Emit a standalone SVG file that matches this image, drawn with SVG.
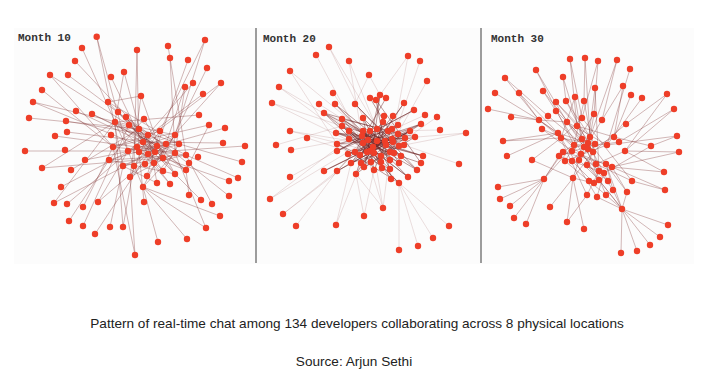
<svg xmlns="http://www.w3.org/2000/svg" width="708" height="384" viewBox="0 0 708 384">
<style>
.bg{fill:#fcfcfc}
.sep{stroke:#9c9c9c;stroke-width:2}
.e{fill:none;stroke:#7a2a2a;stroke-width:0.8;stroke-opacity:0.42}
.ed{fill:none;stroke:#6a2020;stroke-width:0.9;stroke-opacity:0.5}
.el{fill:none;stroke:#8a3a3a;stroke-width:0.7;stroke-opacity:0.24}
.n circle{fill:#ee3e28;r:3.2px}
.lbl{font-family:"Liberation Mono","DejaVu Sans Mono",monospace;font-weight:bold;font-size:11px;fill:#333}
.cap{font-family:"Liberation Sans",Arial,sans-serif;font-size:13.6px;fill:#222;text-anchor:middle}
</style>
<rect width="708" height="384" fill="#ffffff"/>
<rect class="bg" x="14" y="28" width="680" height="236"/>
<line class="sep" x1="256" y1="28" x2="256" y2="263"/>
<line class="sep" x1="481" y1="28" x2="481" y2="263"/>

<g id="month10">
<text class="lbl" x="18" y="41">Month 10</text>
<path class="e" d="M96.7 36.7L123 166M96.7 36.7L128 151M205 40L175 135M205 40L160 131M82 48L128 151M137 50L139 152M137 50L134 166M168 46L186 155M170 58L175 153M188 60L157 146M75 61L139 129M207 68L163 158M124 72L143 142M124 72L115 122M50 75L129 125M68 75L148 135M111 77L148 154M221 83L143 142M193 83L137 147M185 87L175 153M185 87L166 144M42 90L113 147M203 94L128 151M141 96L130 177M141 96L108 102M33 102L129 125M108 102L155 152M118 112L163 158M76 111L143 142M92 114L157 146M199 115L115 122M29 118L139 129M126 117L175 153M144 119L109 160M66 121L148 135M209 125L113 147M225 128L139 152M67 132L166 144M55 136L137 147M223 143L143 142M245 146L155 152M25 151L128 151M242 162L179 144M85 160L166 144M42 168L115 122M71 170L139 129M238 178L186 155M229 181L163 158M61 187L137 147M229 196L175 153M189 195L186 170M201 200L175 174M212 204L186 155M54 203L115 122M67 204L148 135M98 202L128 151M144 202L139 152M83 207L113 147M220 216L143 187M69 221L109 160M83 226L129 125M110 227L123 166M123 227L134 166M123 227L115 122M206 228L143 187M95 234L148 154M187 239L143 187M158 242L143 187M135 255L130 177M135 255L113 147M50 75L113 147M33 102L155 152M221 83L166 144M209 125L186 170M42 168L163 158M54 203L148 154M98 202L166 144M206 228L175 153"/>
<path class="e" d="M115 122L148 135M115 122L157 146M129 125L163 158M129 125L175 135M139 129L179 144M139 129L155 152M148 135L186 155M148 135L130 177M160 131L113 147M160 131L147 176M175 135L128 151M175 135L154 163M143 142L186 170M143 142L175 174M157 146L109 160M157 146L134 166M166 144L123 166M166 144L143 187M179 144L137 147M179 144L163 171M113 147L186 155M137 147L175 153M128 151L163 158M139 152L186 170M155 152L115 122M148 154L179 144M175 153L130 177M186 155L109 160M163 158L123 166M109 160L175 174M154 163L170 184M145 164L186 155M134 166L160 131M123 166L157 183M163 171L115 122M186 170L129 125M175 174L139 129M147 176L175 135M130 177L166 144M157 183L148 135M170 184L137 147M143 187L175 153M143 187L128 151M108 102L179 144M118 112L186 170M144 119L175 174M126 117L163 171M141 96L163 158M92 114L175 153"/>
<g class="n">
<circle cx="96.7" cy="36.7" r="3.2"/><circle cx="205" cy="40" r="3.2"/><circle cx="82" cy="48" r="3.2"/><circle cx="137" cy="50" r="3.2"/><circle cx="168" cy="46" r="3.2"/><circle cx="170" cy="58" r="3.2"/><circle cx="188" cy="60" r="3.2"/><circle cx="75" cy="61" r="3.2"/><circle cx="207" cy="68" r="3.2"/><circle cx="124" cy="72" r="3.2"/><circle cx="50" cy="75" r="3.2"/><circle cx="68" cy="75" r="3.2"/><circle cx="111" cy="77" r="3.2"/><circle cx="221" cy="83" r="3.2"/><circle cx="193" cy="83" r="3.2"/><circle cx="185" cy="87" r="3.2"/><circle cx="42" cy="90" r="3.2"/><circle cx="203" cy="94" r="3.2"/><circle cx="141" cy="96" r="3.2"/><circle cx="33" cy="102" r="3.2"/><circle cx="108" cy="102" r="3.2"/><circle cx="118" cy="112" r="3.2"/><circle cx="76" cy="111" r="3.2"/><circle cx="92" cy="114" r="3.2"/><circle cx="199" cy="115" r="3.2"/><circle cx="29" cy="118" r="3.2"/><circle cx="126" cy="117" r="3.2"/><circle cx="144" cy="119" r="3.2"/><circle cx="66" cy="121" r="3.2"/><circle cx="115" cy="122" r="3.2"/><circle cx="129" cy="125" r="3.2"/><circle cx="209" cy="125" r="3.2"/><circle cx="225" cy="128" r="3.2"/><circle cx="139" cy="129" r="3.2"/><circle cx="160" cy="131" r="3.2"/><circle cx="67" cy="132" r="3.2"/><circle cx="175" cy="135" r="3.2"/><circle cx="148" cy="135" r="3.2"/><circle cx="55" cy="136" r="3.2"/><circle cx="111" cy="135" r="3.2"/><circle cx="143" cy="142" r="3.2"/><circle cx="223" cy="143" r="3.2"/><circle cx="157" cy="146" r="3.2"/><circle cx="166" cy="144" r="3.2"/><circle cx="179" cy="144" r="3.2"/><circle cx="113" cy="147" r="3.2"/><circle cx="137" cy="147" r="3.2"/><circle cx="245" cy="146" r="3.2"/><circle cx="65" cy="150" r="3.2"/><circle cx="25" cy="151" r="3.2"/><circle cx="128" cy="151" r="3.2"/><circle cx="139" cy="152" r="3.2"/><circle cx="155" cy="152" r="3.2"/><circle cx="148" cy="154" r="3.2"/><circle cx="175" cy="153" r="3.2"/><circle cx="186" cy="155" r="3.2"/><circle cx="198" cy="157" r="3.2"/><circle cx="163" cy="158" r="3.2"/><circle cx="85" cy="160" r="3.2"/><circle cx="109" cy="160" r="3.2"/><circle cx="242" cy="162" r="3.2"/><circle cx="189" cy="163" r="3.2"/><circle cx="154" cy="163" r="3.2"/><circle cx="145" cy="164" r="3.2"/><circle cx="134" cy="166" r="3.2"/><circle cx="123" cy="166" r="3.2"/><circle cx="42" cy="168" r="3.2"/><circle cx="71" cy="170" r="3.2"/><circle cx="163" cy="171" r="3.2"/><circle cx="186" cy="170" r="3.2"/><circle cx="175" cy="174" r="3.2"/><circle cx="147" cy="176" r="3.2"/><circle cx="130" cy="177" r="3.2"/><circle cx="238" cy="178" r="3.2"/><circle cx="229" cy="181" r="3.2"/><circle cx="157" cy="183" r="3.2"/><circle cx="170" cy="184" r="3.2"/><circle cx="143" cy="187" r="3.2"/><circle cx="61" cy="187" r="3.2"/><circle cx="229" cy="196" r="3.2"/><circle cx="189" cy="195" r="3.2"/><circle cx="201" cy="200" r="3.2"/><circle cx="212" cy="204" r="3.2"/><circle cx="54" cy="203" r="3.2"/><circle cx="67" cy="204" r="3.2"/><circle cx="98" cy="202" r="3.2"/><circle cx="144" cy="202" r="3.2"/><circle cx="83" cy="207" r="3.2"/><circle cx="220" cy="216" r="3.2"/><circle cx="69" cy="221" r="3.2"/><circle cx="83" cy="226" r="3.2"/><circle cx="110" cy="227" r="3.2"/><circle cx="123" cy="227" r="3.2"/><circle cx="206" cy="228" r="3.2"/><circle cx="95" cy="234" r="3.2"/><circle cx="187" cy="239" r="3.2"/><circle cx="158" cy="242" r="3.2"/><circle cx="135" cy="255" r="3.2"/>
</g>
</g>

<g id="month20">
<text class="lbl" x="263" y="42">Month 20</text>
<path class="el" d="M329 47L370 131M329 47L385 141M316 55L363 143M408 56L390 152M408 56L380 95M420 61L398 125M349 61L377 129M349 61L362 136M290 71L363 131M290 71L337 144M369 75L380 95M369 75L355 104M427 81L393 142M279 87L362 136M279 87L349 139M333 93L374 153M272 103L370 151M272 103L342 126M319 104L377 141M335 104L368 140M425 115L370 140M437 117L381 156M290 131L370 151M290 131L363 143M466 133L399 146M466 133L405 138M307 138L360 155M276 145L342 126M440 130L388 131M291 150L349 139M459 164L404 145M290 177L337 151M270 199L349 139M270 199L363 143M383 208L373 147M383 208L356 174M383 208L390 152M383 208L363 143M283 214L337 171M283 214L360 155M364 216L356 174M364 216L374 170M336 225L361 163M336 225L351 163M296 226L337 171M449 226L399 183M433 238L399 183M418 246L399 183M399 250L399 183M324 113L385 141M414 110L363 143M324 171L385 141"/>
<path class="ed" d="M342 119L401 156M363 118L390 169M383 122L351 163M398 125L337 151M421 124L348 154M342 126L417 170M336 133L423 156M349 131L399 183M363 131L408 177M370 131L356 174M377 129L364 167M388 131L337 144M392 129L360 155M398 134L324 113M410 131L337 171M415 137L342 119M337 144L405 138M349 139L421 163M362 136L391 179M368 140L399 163M377 141L351 163M385 141L324 171M392 139L348 154M405 138L363 143M363 143L421 124M373 147L380 95M370 151L404 103M386 145L335 104M393 142L355 104M399 146L370 98M404 145L342 126M337 151L414 110M355 152L386 98M360 155L393 116M374 153L384 116M381 156L324 113M390 152L336 133M394 153L349 131M401 156L363 118M423 156L362 136M351 163L410 131M361 163L398 125M371 162L383 122M381 162L342 119M390 160L349 139M399 163L377 129M364 167L415 137M374 170L392 129M382 168L363 131M390 169L337 144M417 170L370 131M356 174L405 138M408 177L349 131M391 179L376 100M399 183L342 126M376 100L421 163M380 95L364 167M335 104L390 160M355 104L417 170M404 103L356 174M324 171L398 134M337 171L410 131M324 113L382 168M414 110L337 151M342 119L390 152M363 118L374 170M383 122L337 171M421 124L361 163M336 133L404 145M370 131L401 156M388 131L364 167M392 139L336 133M368 140L423 156M373 147L410 131M355 152L398 125M381 162L363 131M399 163L342 126M348 154L405 138M360 155L421 124M337 144L399 183M349 131L390 169M415 137L355 152M363 143L408 177M386 145L324 113M404 145L351 163"/>
<g class="n">
<circle cx="329" cy="47" r="3.2"/><circle cx="316" cy="55" r="3.2"/><circle cx="408" cy="56" r="3.2"/><circle cx="420" cy="61" r="3.2"/><circle cx="349" cy="61" r="3.2"/><circle cx="290" cy="71" r="3.2"/><circle cx="369" cy="75" r="3.2"/><circle cx="427" cy="81" r="3.2"/><circle cx="279" cy="87" r="3.2"/><circle cx="333" cy="93" r="3.2"/><circle cx="380" cy="95" r="3.2"/><circle cx="370" cy="98" r="3.2"/><circle cx="386" cy="98" r="3.2"/><circle cx="376" cy="100" r="3.2"/><circle cx="272" cy="103" r="3.2"/><circle cx="319" cy="104" r="3.2"/><circle cx="335" cy="104" r="3.2"/><circle cx="355" cy="104" r="3.2"/><circle cx="404" cy="103" r="3.2"/><circle cx="414" cy="110" r="3.2"/><circle cx="324" cy="113" r="3.2"/><circle cx="425" cy="115" r="3.2"/><circle cx="437" cy="117" r="3.2"/><circle cx="384" cy="116" r="3.2"/><circle cx="393" cy="116" r="3.2"/><circle cx="342" cy="119" r="3.2"/><circle cx="363" cy="118" r="3.2"/><circle cx="383" cy="122" r="3.2"/><circle cx="398" cy="125" r="3.2"/><circle cx="421" cy="124" r="3.2"/><circle cx="342" cy="126" r="3.2"/><circle cx="290" cy="131" r="3.2"/><circle cx="440" cy="130" r="3.2"/><circle cx="466" cy="133" r="3.2"/><circle cx="336" cy="133" r="3.2"/><circle cx="349" cy="131" r="3.2"/><circle cx="363" cy="131" r="3.2"/><circle cx="370" cy="131" r="3.2"/><circle cx="377" cy="129" r="3.2"/><circle cx="388" cy="131" r="3.2"/><circle cx="392" cy="129" r="3.2"/><circle cx="398" cy="134" r="3.2"/><circle cx="410" cy="131" r="3.2"/><circle cx="415" cy="137" r="3.2"/><circle cx="307" cy="138" r="3.2"/><circle cx="276" cy="145" r="3.2"/><circle cx="337" cy="144" r="3.2"/><circle cx="349" cy="139" r="3.2"/><circle cx="362" cy="136" r="3.2"/><circle cx="368" cy="140" r="3.2"/><circle cx="377" cy="141" r="3.2"/><circle cx="385" cy="141" r="3.2"/><circle cx="392" cy="139" r="3.2"/><circle cx="405" cy="138" r="3.2"/><circle cx="363" cy="143" r="3.2"/><circle cx="373" cy="147" r="3.2"/><circle cx="370" cy="151" r="3.2"/><circle cx="386" cy="145" r="3.2"/><circle cx="393" cy="142" r="3.2"/><circle cx="399" cy="146" r="3.2"/><circle cx="404" cy="145" r="3.2"/><circle cx="291" cy="150" r="3.2"/><circle cx="337" cy="151" r="3.2"/><circle cx="355" cy="152" r="3.2"/><circle cx="348" cy="154" r="3.2"/><circle cx="360" cy="155" r="3.2"/><circle cx="367" cy="152" r="3.2"/><circle cx="374" cy="153" r="3.2"/><circle cx="381" cy="156" r="3.2"/><circle cx="390" cy="152" r="3.2"/><circle cx="394" cy="153" r="3.2"/><circle cx="401" cy="156" r="3.2"/><circle cx="423" cy="156" r="3.2"/><circle cx="351" cy="163" r="3.2"/><circle cx="361" cy="163" r="3.2"/><circle cx="371" cy="162" r="3.2"/><circle cx="381" cy="162" r="3.2"/><circle cx="390" cy="160" r="3.2"/><circle cx="399" cy="163" r="3.2"/><circle cx="421" cy="163" r="3.2"/><circle cx="459" cy="164" r="3.2"/><circle cx="364" cy="167" r="3.2"/><circle cx="374" cy="170" r="3.2"/><circle cx="382" cy="168" r="3.2"/><circle cx="390" cy="169" r="3.2"/><circle cx="417" cy="170" r="3.2"/><circle cx="324" cy="171" r="3.2"/><circle cx="337" cy="171" r="3.2"/><circle cx="356" cy="174" r="3.2"/><circle cx="408" cy="177" r="3.2"/><circle cx="391" cy="179" r="3.2"/><circle cx="399" cy="183" r="3.2"/><circle cx="290" cy="177" r="3.2"/><circle cx="270" cy="199" r="3.2"/><circle cx="383" cy="208" r="3.2"/><circle cx="283" cy="214" r="3.2"/><circle cx="364" cy="216" r="3.2"/><circle cx="336" cy="225" r="3.2"/><circle cx="296" cy="226" r="3.2"/><circle cx="449" cy="226" r="3.2"/><circle cx="433" cy="238" r="3.2"/><circle cx="418" cy="246" r="3.2"/><circle cx="399" cy="250" r="3.2"/>
</g>
</g>

<g id="month30">
<text class="lbl" x="491" y="42">Month 30</text>
<path class="e" d="M570 59L582 118M570 59L577 126M585 58L584 101M585 58L590 137M598 61L582 118M598 61L594 114M617 60L602 120M617 60L588 143M536 70L567 122M536 70L574 145M630 69L607 145M505 78L539 120M505 78L548 116M563 77L566 101M595 88L588 143M623 86L602 120M623 86L614 137M495 93L539 120M519 93L539 120M519 93L558 133M543 91L556 111M543 91L582 139M631 95L614 137M642 98L607 145M667 94L626 124M667 94L625 151M488 109L539 120M674 109L625 151M674 109L619 142M511 117L539 120M503 141L558 133M503 141L561 138M677 136L651 146M677 136L607 145M651 146L614 137M679 152L625 151M679 152L612 167M507 156L558 133M532 160L561 138M532 160L573 178M664 172L625 151M665 190L612 167M665 190L632 181M498 187L544 179M500 199L544 179M510 206L544 179M514 218L544 179M526 224L544 179M544 179L559 156M550 207L573 178M567 222L573 178M567 222L587 195M584 229L573 178M622 209L613 190M622 209L627 192M622 209L597 197M622 209L606 195M668 225L622 209M660 237L622 209M650 245L622 209M637 251L622 209M621 253L622 209"/>
<path class="e" d="M556 111L588 143M566 101L595 144M575 97L582 139M584 101L574 145M582 118L561 138M594 114L590 137M567 122L607 145M577 126L614 137M558 133L588 143M561 138L595 144M582 139L563 152M590 137L572 151M614 137L581 154M619 142L584 147M574 145L588 149M588 143L593 152M595 144L559 156M607 145L565 161M584 147L572 161M588 149L579 160M593 152L587 165M625 151L596 164M563 152L606 164M572 151L612 167M581 154L599 171M559 156L604 173M565 161L589 181M572 161L594 183M579 160L599 180M587 165L608 181M596 164L632 181M606 164L613 190M612 167L627 192M599 171L587 195M604 173L597 197M589 181L606 195M594 183L573 178M599 180L556 111M608 181L566 101M632 181L582 118M613 190L567 122M627 192L577 126M587 195L558 133M597 197L561 138M606 195L582 139M602 120L581 154M626 124L593 152M548 116L588 149M542 129L584 147M539 120L574 145M556 102L590 137M584 101L596 164M595 88L599 171M563 77L582 139M651 146L604 173M664 172L612 167M622 209L606 164M622 209L599 180M622 209L587 165M573 178L593 152M573 178L581 154M544 179L574 145M544 179L563 152M539 120L561 138M539 120L558 133M539 120L567 122M556 102L577 126M575 97L561 138M542 129L572 151M558 133L599 171M567 122L588 149M594 114L565 161"/>
<g class="n">
<circle cx="570" cy="59" r="3.2"/><circle cx="585" cy="58" r="3.2"/><circle cx="598" cy="61" r="3.2"/><circle cx="617" cy="60" r="3.2"/><circle cx="536" cy="70" r="3.2"/><circle cx="630" cy="69" r="3.2"/><circle cx="505" cy="78" r="3.2"/><circle cx="563" cy="77" r="3.2"/><circle cx="595" cy="88" r="3.2"/><circle cx="623" cy="86" r="3.2"/><circle cx="495" cy="93" r="3.2"/><circle cx="519" cy="93" r="3.2"/><circle cx="543" cy="91" r="3.2"/><circle cx="631" cy="95" r="3.2"/><circle cx="642" cy="98" r="3.2"/><circle cx="667" cy="94" r="3.2"/><circle cx="556" cy="102" r="3.2"/><circle cx="566" cy="101" r="3.2"/><circle cx="575" cy="97" r="3.2"/><circle cx="584" cy="101" r="3.2"/><circle cx="488" cy="109" r="3.2"/><circle cx="674" cy="109" r="3.2"/><circle cx="511" cy="117" r="3.2"/><circle cx="548" cy="116" r="3.2"/><circle cx="556" cy="111" r="3.2"/><circle cx="582" cy="118" r="3.2"/><circle cx="594" cy="114" r="3.2"/><circle cx="539" cy="120" r="3.2"/><circle cx="567" cy="122" r="3.2"/><circle cx="602" cy="120" r="3.2"/><circle cx="626" cy="124" r="3.2"/><circle cx="577" cy="126" r="3.2"/><circle cx="542" cy="129" r="3.2"/><circle cx="558" cy="133" r="3.2"/><circle cx="561" cy="138" r="3.2"/><circle cx="582" cy="139" r="3.2"/><circle cx="590" cy="137" r="3.2"/><circle cx="614" cy="137" r="3.2"/><circle cx="619" cy="142" r="3.2"/><circle cx="677" cy="136" r="3.2"/><circle cx="503" cy="141" r="3.2"/><circle cx="574" cy="145" r="3.2"/><circle cx="588" cy="143" r="3.2"/><circle cx="595" cy="144" r="3.2"/><circle cx="607" cy="145" r="3.2"/><circle cx="651" cy="146" r="3.2"/><circle cx="584" cy="147" r="3.2"/><circle cx="588" cy="149" r="3.2"/><circle cx="593" cy="152" r="3.2"/><circle cx="625" cy="151" r="3.2"/><circle cx="679" cy="152" r="3.2"/><circle cx="563" cy="152" r="3.2"/><circle cx="572" cy="151" r="3.2"/><circle cx="581" cy="154" r="3.2"/><circle cx="559" cy="156" r="3.2"/><circle cx="507" cy="156" r="3.2"/><circle cx="532" cy="160" r="3.2"/><circle cx="565" cy="161" r="3.2"/><circle cx="572" cy="161" r="3.2"/><circle cx="579" cy="160" r="3.2"/><circle cx="587" cy="165" r="3.2"/><circle cx="596" cy="164" r="3.2"/><circle cx="606" cy="164" r="3.2"/><circle cx="612" cy="167" r="3.2"/><circle cx="599" cy="171" r="3.2"/><circle cx="604" cy="173" r="3.2"/><circle cx="664" cy="172" r="3.2"/><circle cx="573" cy="178" r="3.2"/><circle cx="544" cy="179" r="3.2"/><circle cx="589" cy="181" r="3.2"/><circle cx="594" cy="183" r="3.2"/><circle cx="599" cy="180" r="3.2"/><circle cx="608" cy="181" r="3.2"/><circle cx="632" cy="181" r="3.2"/><circle cx="613" cy="190" r="3.2"/><circle cx="627" cy="192" r="3.2"/><circle cx="665" cy="190" r="3.2"/><circle cx="498" cy="187" r="3.2"/><circle cx="500" cy="199" r="3.2"/><circle cx="587" cy="195" r="3.2"/><circle cx="597" cy="197" r="3.2"/><circle cx="606" cy="195" r="3.2"/><circle cx="510" cy="206" r="3.2"/><circle cx="550" cy="207" r="3.2"/><circle cx="622" cy="209" r="3.2"/><circle cx="514" cy="218" r="3.2"/><circle cx="526" cy="224" r="3.2"/><circle cx="567" cy="222" r="3.2"/><circle cx="584" cy="229" r="3.2"/><circle cx="668" cy="225" r="3.2"/><circle cx="660" cy="237" r="3.2"/><circle cx="650" cy="245" r="3.2"/><circle cx="637" cy="251" r="3.2"/><circle cx="621" cy="253" r="3.2"/>
</g>
</g>

<text class="cap" x="357" y="328">Pattern of real-time chat among 134 developers collaborating across 8 physical locations</text>
<text class="cap" x="354" y="366">Source: Arjun Sethi</text>
</svg>
